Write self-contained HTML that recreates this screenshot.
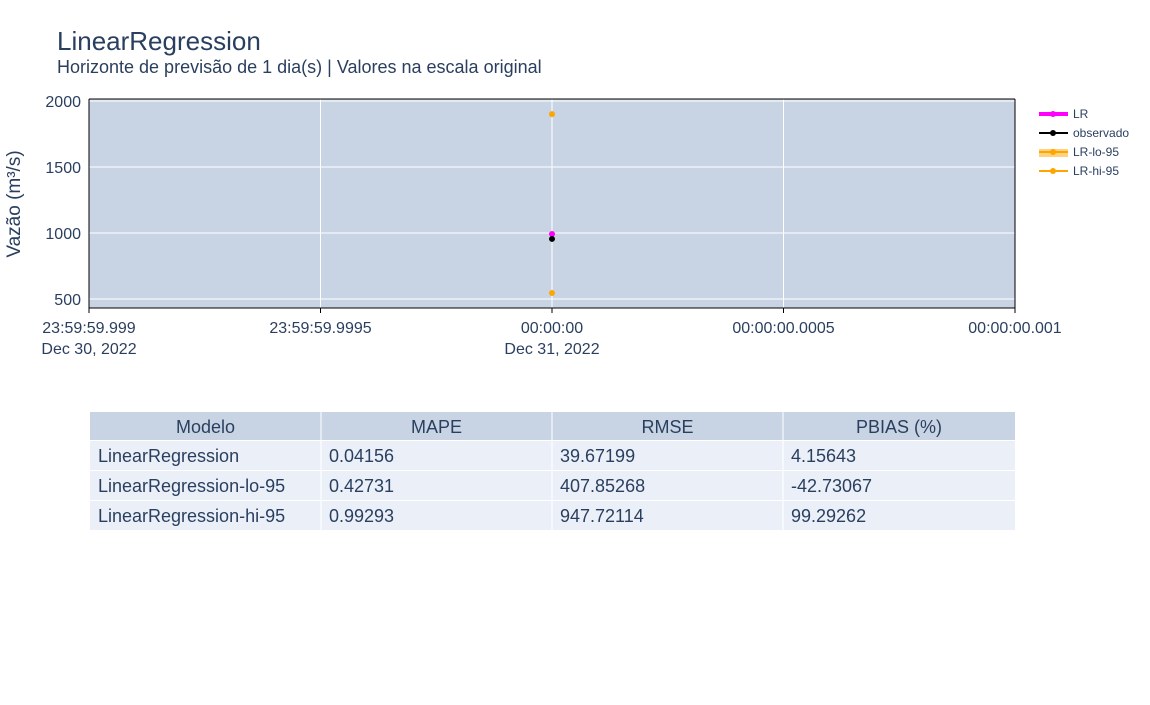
<!DOCTYPE html>
<html><head><meta charset="utf-8"><style>
body{margin:0;background:#fff;font-family:"Liberation Sans",sans-serif;}
svg text{font-family:"Liberation Sans",sans-serif;}
</style></head><body>
<svg id="chart" width="1150" height="700" xmlns="http://www.w3.org/2000/svg">
<text x="57" y="50" font-size="26" fill="#2a3f5f">LinearRegression</text>
<text x="57" y="73" font-size="18" fill="#2a3f5f">Horizonte de previsão de 1 dia(s) | Valores na escala original</text>
<rect x="89" y="99" width="926" height="209" fill="#c8d4e3"/>
<g id="grid"></g>
<line x1="89" y1="99" x2="1015" y2="99" stroke="#000"/>
<line x1="89" y1="99" x2="89" y2="308" stroke="#000"/>
<line x1="1015" y1="99" x2="1015" y2="308" stroke="#000"/>
<line x1="89" y1="308" x2="1015" y2="308" stroke="#000"/>
<g id="ticks"></g>
<g id="marks"></g>
<text transform="translate(20,204) rotate(-90)" text-anchor="middle" font-size="19" fill="#2a3f5f">Vazão (m³/s)</text>
<g font-size="12" fill="#2a3f5f">
<g><line x1="1039" y1="114" x2="1068" y2="114" stroke="#ff00ff" stroke-width="4"/><circle cx="1053" cy="114" r="3" fill="#ff00ff"/><text x="1073" y="118">LR</text></g>
<g><line x1="1039" y1="133" x2="1068" y2="133" stroke="#000" stroke-width="2"/><circle cx="1053" cy="133" r="3" fill="#000"/><text x="1073" y="137">observado</text></g>
<g><rect x="1039" y="149" width="29" height="8" fill="#ffa500" opacity="0.5"/><line x1="1039" y1="152" x2="1068" y2="152" stroke="#ffa500" stroke-width="2"/><circle cx="1053" cy="152" r="3" fill="#ffa500"/><text x="1073" y="156">LR-lo-95</text></g>
<g><line x1="1039" y1="171" x2="1068" y2="171" stroke="#ffa500" stroke-width="2"/><circle cx="1053" cy="171" r="3" fill="#ffa500"/><text x="1073" y="175">LR-hi-95</text></g>
</g>
<g id="table"></g>
</svg>
<script>
const yTicks=[500,1000,1500,2000];
const xTickLabels=["23:59:59.999","23:59:59.9995","00:00:00","00:00:00.0005","00:00:00.001"];
const xTickDates=["Dec 30, 2022","","Dec 31, 2022","",""];
const seriesNames=["LR-hi-95","LR","observado","LR-lo-95"];
const seriesValues=[1901,992,955,545];
const seriesColors=["#ffa500","#ff00ff","#000000","#ffa500"];
const tableHeader=["Modelo","MAPE","RMSE","PBIAS (%)"];
const tableRows=[["LinearRegression","0.04156","39.67199","4.15643"],["LinearRegression-lo-95","0.42731","407.85268","-42.73067"],["LinearRegression-hi-95","0.99293","947.72114","99.29262"]];
const NS="http://www.w3.org/2000/svg";
function yS(v){return 101+(2000-v)*(198/1500);}
function xS(i){return 89+i*(926/4);}
function mk(t,a,p){const e=document.createElementNS(NS,t);for(const k in a)e.setAttribute(k,a[k]);p.appendChild(e);return e;}
const grid=document.getElementById('grid'),ticks=document.getElementById('ticks'),marks=document.getElementById('marks');
yTicks.forEach(v=>{const l=mk('line',{x1:89,x2:1015,y1:yS(v),y2:yS(v),stroke:'#fff','stroke-width':1},grid);

const t=mk('text',{x:81,y:yS(v)+6,'text-anchor':'end','font-size':16,fill:'#2a3f5f'},ticks);t.textContent=v;
});
xTickLabels.forEach((s,i)=>{const l=mk('line',{x1:xS(i),x2:xS(i),y1:99,y2:308,stroke:'#fff'},grid);

mk('line',{x1:xS(i),x2:xS(i),y1:308,y2:313,stroke:'#000'},ticks);
const t=mk('text',{x:xS(i),y:333,'text-anchor':'middle','font-size':16,fill:'#2a3f5f'},ticks);t.textContent=s;

if(xTickDates[i]){const d=mk('text',{x:xS(i),y:354,'text-anchor':'middle','font-size':16,fill:'#2a3f5f'},ticks);d.textContent=xTickDates[i];
}});
seriesValues.forEach((v,i)=>{const c=mk('circle',{cx:xS(2),cy:yS(v),r:3,fill:seriesColors[i]},marks);
});
const tb=document.getElementById('table');const cx=[90,321,552,783,1015];
const hdr=mk('rect',{x:90,y:412,width:925,height:28,fill:'#c8d4e3'},tb);
tableHeader.forEach((h,j)=>{const t=mk('text',{x:(cx[j]+cx[j+1])/2,y:433,'text-anchor':'middle','font-size':18,fill:'#2a3f5f'},tb);t.textContent=h;
});
tableRows.forEach((r,i)=>{const y=441+i*30;mk('rect',{x:90,y:y,width:925,height:29,fill:'#ebf0f8'},tb);
r.forEach((c,j)=>{const t=mk('text',{x:cx[j]+8,y:y+21,'font-size':18,fill:'#2a3f5f'},tb);t.textContent=c;
});});
for(let j=1;j<4;j++)mk('line',{x1:cx[j],x2:cx[j],y1:412,y2:530,stroke:'#fff'},tb);
</script>
</body></html>
